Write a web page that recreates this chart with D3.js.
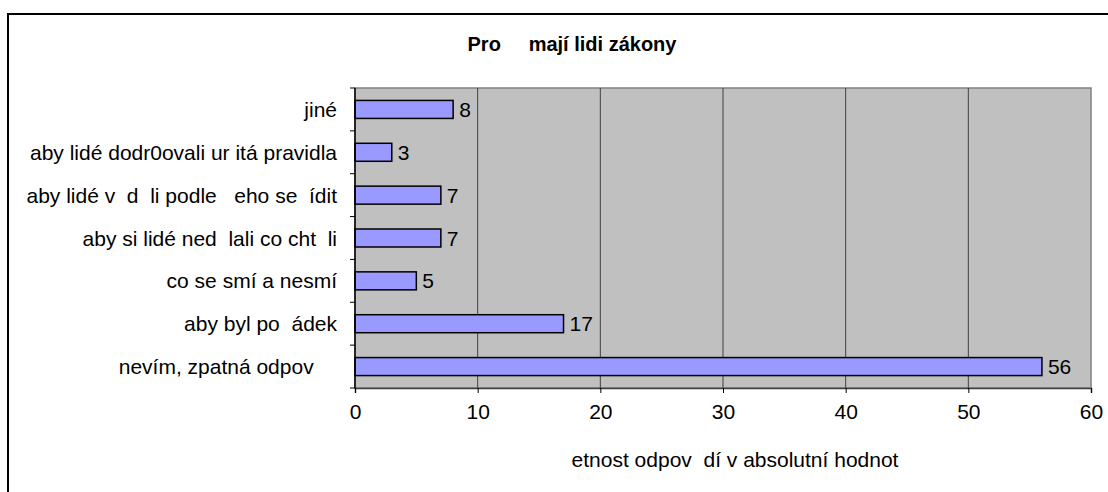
<!DOCTYPE html>
<html>
<head>
<meta charset="utf-8">
<script src="https://d3js.org/d3.v7.min.js"></script>
<style>
body {
  margin: 0;
  background: white;
  font-family: "Liberation Sans", Arial, sans-serif;
}
text {
  white-space: pre;
}
</style>
</head>
<body>
<div id="chart"></div>
<script>
// Data (top to bottom as in the chart)
const categories = ["jiné", "aby lidé dodr0ovali ur itá pravidla", "aby lidé v  d  li podle   eho se  ídit",
                    "aby si lidé ned  lali co cht  li", "co se smí a nesmí", "aby byl po  ádek", "nevím, zpatná odpov    "];
const values = [8, 3, 7, 7, 5, 17, 56];
const xTicks = [0, 10, 20, 30, 40, 50, 60];
const chartTitle = "Pro     mají lidi zákony";
const xTitle = "etnost odpov  dí v absolutní hodnot";

const svg = d3.select("#chart")
  .append("svg")
  .attr("width", 1108)
  .attr("height", 492);

// outer frame (runs off the right and bottom edge)
svg.append("rect")
  .attr("x", 8)
  .attr("y", 14)
  .attr("width", 1200)
  .attr("height", 600)
  .attr("fill", "white")
  .attr("stroke", "#000")
  .attr("stroke-width", 2);

const margin = { top: 88, left: 355, right: 17, bottom: 104 };
const width = 1108 - margin.left - margin.right;
const height = 492 - margin.top - margin.bottom;
const chart = svg.append("g").attr("transform", `translate(${margin.left},${margin.top})`);

const xScale = d3.scaleLinear().domain([0, 60]).range([0, width]);
const yScale = d3.scaleBand().domain(categories).range([0, height]).paddingInner(0.58).paddingOuter(0.29);

// plot background
chart.append("rect")
  .attr("width", width)
  .attr("height", height)
  .attr("fill", "#c0c0c0")
  .attr("stroke", "#808080")
  .attr("stroke-width", 1.5);

// gridlines
chart.append("g")
  .selectAll("line")
  .data(xTicks.slice(1, -1))
  .enter().append("line")
  .attr("x1", d => xScale(d))
  .attr("x2", d => xScale(d))
  .attr("y1", 0)
  .attr("y2", height)
  .attr("stroke", "#404040")
  .attr("stroke-width", 1);

// bars
chart.append("g")
  .selectAll("rect")
  .data(values)
  .enter().append("rect")
  .attr("x", 0)
  .attr("y", (d, i) => yScale(categories[i]))
  .attr("width", d => xScale(d))
  .attr("height", yScale.bandwidth())
  .attr("fill", "#9999ff")
  .attr("stroke", "#000")
  .attr("stroke-width", 1.5);

// value labels
chart.append("g")
  .selectAll("text")
  .data(values)
  .enter().append("text")
  .attr("x", d => xScale(d) + 6)
  .attr("y", (d, i) => yScale(categories[i]) + yScale.bandwidth() / 2)
  .attr("dy", "0.36em")
  .style("font-size", "21px")
  .text(d => d);

// x axis
const xAxis = chart.append("g")
  .attr("transform", `translate(0,${height})`)
  .call(d3.axisBottom(xScale).tickValues(xTicks).tickSize(5).tickPadding(11));
xAxis.select(".domain").attr("stroke", "#404040").attr("stroke-width", 1.5);
xAxis.selectAll(".tick line").attr("stroke", "#000");
xAxis.selectAll("text").style("font-size", "21px").style("font-family", "Liberation Sans, Arial").attr("fill", "#000");

// y axis (category ticks on band boundaries)
const step = height / categories.length;
chart.append("line")
  .attr("x1", 0).attr("x2", 0).attr("y1", 0).attr("y2", height)
  .attr("stroke", "#000").attr("stroke-width", 1.5);
chart.append("g")
  .selectAll("line")
  .data(d3.range(categories.length + 1))
  .enter().append("line")
  .attr("x1", -5).attr("x2", 0)
  .attr("y1", i => i * step).attr("y2", i => i * step)
  .attr("stroke", "#000");
chart.append("g")
  .selectAll("text")
  .data(categories)
  .enter().append("text")
  .attr("x", -18)
  .attr("y", d => yScale(d) + yScale.bandwidth() / 2)
  .attr("dy", "0.36em")
  .attr("text-anchor", "end")
  .style("font-size", "21px")
  .text(d => d);

// titles
svg.append("text")
  .attr("x", 572)
  .attr("y", 51)
  .attr("text-anchor", "middle")
  .style("font-size", "20px")
  .style("font-weight", "bold")
  .text(chartTitle);

svg.append("text")
  .attr("x", 735)
  .attr("y", 467)
  .attr("text-anchor", "middle")
  .style("font-size", "21px")
  .text(xTitle);
</script>
</body>
</html>
